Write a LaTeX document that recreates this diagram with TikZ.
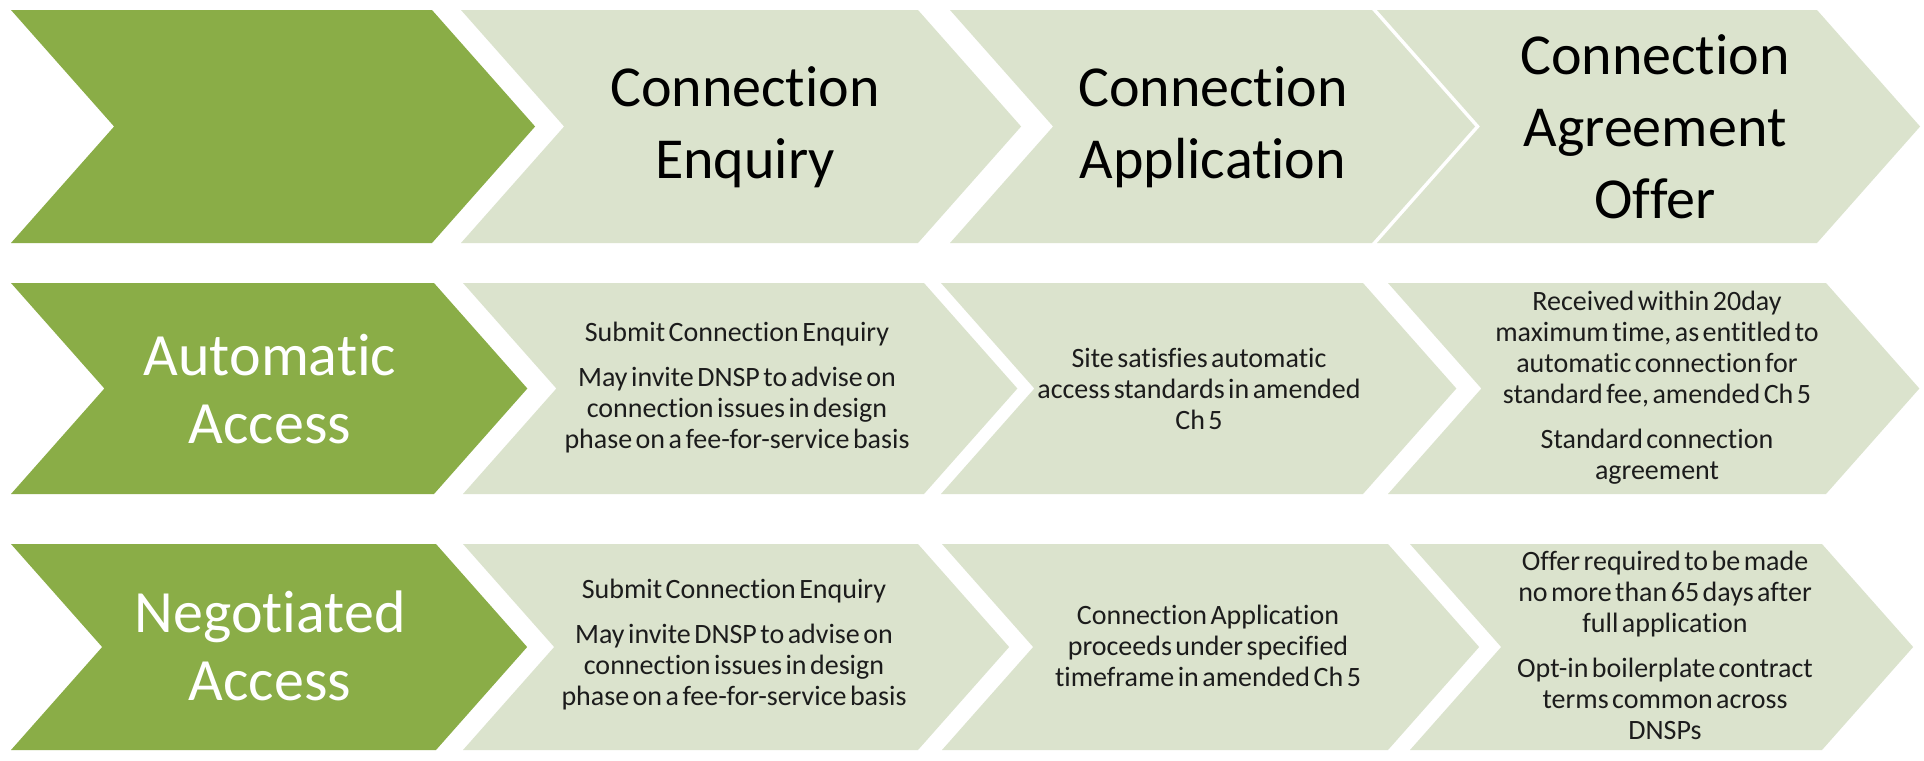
\documentclass[tikz,border=0pt]{standalone}
\usepackage{fontspec}
\setmainfont[Ligatures=NoCommon]{Carlito}
\newfontfamily\bodyfont[Ligatures=NoCommon,WordSpace=0.55]{Carlito}

\definecolor{stagegreen}{RGB}{138,173,71}
\definecolor{stagepale}{RGB}{219,227,205}
\definecolor{bodyink}{RGB}{28,28,28}

% chevron: left edge, top-right corner x, top y, bottom y, fill colour
\newcommand\chevshape[5]{%
  \pgfmathsetmacro\chevmid{(#3+#4)/2}%
  \pgfmathsetmacro\chevd{0.885*(#4-#3)/2}%
  \fill[#5] (#1,#3) -- (#2,#3) -- (#2+\chevd,\chevmid) -- (#2,#4)
     -- (#1,#4) -- (#1+\chevd,\chevmid) -- cycle;
}

\tikzset{
  headtext/.style={align=center, font=\fontsize{29}{36}\selectfont, text=black, inner sep=0pt},
  labeltext/.style={align=center, font=\fontsize{30}{34}\selectfont, text=white, inner sep=0pt},
  bodytext/.style={align=center, font=\bodyfont\fontsize{14}{15.5}\selectfont, text=bodyink, inner sep=0pt},
}

\begin{document}
\begin{tikzpicture}[x=0.5pt,y=-0.5pt]
\useasboundingbox[fill=white] (0,0) rectangle (1924,761);

% ---- row 1: stage headings
\chevshape{11}{432}{10}{243}{stagegreen}
\chevshape{461}{918}{10}{243}{stagepale}
\chevshape{950}{1372}{10}{243}{stagepale}
\chevshape{1377}{1817}{10}{243}{stagepale}

\node[headtext] (hEnq) at (745,127) {Connection\\Enquiry};
\node[headtext] (hApp) at (1213,127) {Connection\\Application};
\node[headtext] (hOff) at (1655,127) {Connection\\Agreement\\Offer};

% ---- row 2: automatic access
\chevshape{11}{434}{283}{494}{stagegreen}
\chevshape{463}{924}{283}{494}{stagepale}
\chevshape{941}{1363}{283}{494}{stagepale}
\chevshape{1388}{1826}{283}{494}{stagepale}

\node[labeltext] (lAuto) at (270,389) {Automatic\\Access};
\node[bodytext] (aEnq) at (737,388) {Submit Connection Enquiry\\[7pt]
  May invite DNSP to advise on\\connection issues in design\\phase on a fee-for-service basis};
\node[bodytext] (aApp) at (1199,389) {Site satisfies automatic\\access standards in amended\\Ch 5};
\node[bodytext] (aOff) at (1657,388) {Received within 20day\\maximum time, as entitled to\\automatic connection for\\standard fee, amended Ch 5\\[7pt]
  Standard connection\\agreement};

% ---- row 3: negotiated access
\chevshape{11}{436}{544}{750}{stagegreen}
\chevshape{463}{918}{544}{750}{stagepale}
\chevshape{942}{1388}{544}{750}{stagepale}
\chevshape{1410}{1822}{544}{750}{stagepale}

\node[labeltext] (lNeg) at (270,646) {Negotiated\\Access};
\node[bodytext] (nEnq) at (734,645) {Submit Connection Enquiry\\[7pt]
  May invite DNSP to advise on\\connection issues in design\\phase on a fee-for-service basis};
\node[bodytext] (nApp) at (1208,646) {Connection Application\\proceeds under specified\\timeframe in amended Ch 5};
\node[bodytext] (nOff) at (1665,645) {Offer required to be made\\no more than 65 days after\\full application\\[7pt]
  Opt-in boilerplate contract\\terms common across\\DNSPs};
\end{tikzpicture}
\end{document}
